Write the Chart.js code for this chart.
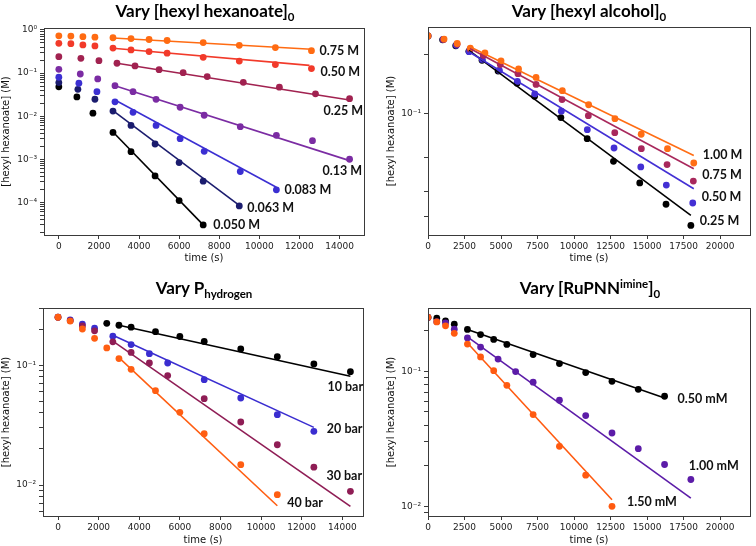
<!DOCTYPE html>
<html>
<head>
<meta charset="utf-8">
<script src="https://cdn.jsdelivr.net/npm/chart.js@4.4.1/dist/chart.umd.min.js"></script>
<style>
body { margin: 0; background: #fff; }
#wrap { position: relative; width: 756px; height: 546px; overflow: hidden; }
canvas { position: absolute; }
.ttl { position: absolute; font-family: Lato, sans-serif; font-weight: bold; font-size: 17px; line-height: 17px;
       color: #000; white-space: nowrap; transform: translateX(-50%); }
.ttl sub { font-size: 11.5px; vertical-align: baseline; position: relative; top: 4px; }
.ttl sup { font-size: 11.5px; vertical-align: baseline; position: relative; top: -6px; }
</style>
</head>
<body>
<div id="wrap">
  <canvas id="c1" width="378" height="273" style="left:0;top:0"></canvas>
  <canvas id="c2" width="378" height="273" style="left:378px;top:0"></canvas>
  <canvas id="c3" width="378" height="273" style="left:0;top:273px"></canvas>
  <canvas id="c4" width="378" height="273" style="left:378px;top:273px"></canvas>
  <div class="ttl" style="left:205px;top:2px">Vary [hexyl hexanoate]<sub>0</sub></div>
  <div class="ttl" style="left:589px;top:2px">Vary [hexyl alcohol]<sub>0</sub></div>
  <div class="ttl" style="left:204px;top:279px">Vary P<sub>hydrogen</sub></div>
  <div class="ttl" style="left:590px;top:279px">Vary [RuPNN<sup>imine</sup>]<sub>0</sub></div>
</div>
<script>
// ---- panel 1: vary [hexyl hexanoate]0
const p1Names = ['0.75 M', '0.50 M', '0.25 M', '0.13 M', '0.083 M', '0.063 M', '0.050 M'];
const p1Times = [
  [0, 600, 1200, 1800, 2700, 3600, 4500, 5400, 7200, 9000, 10800, 12600],
  [0, 600, 1200, 1800, 2700, 3600, 4500, 5400, 7200, 9000, 10800, 12600],
  [0, 1100, 2000, 2900, 3800, 5000, 6200, 7400, 9200, 11000, 12800, 14500],
  [0, 1070, 1940, 2800, 3700, 4850, 6050, 7250, 9050, 10850, 12650, 14500],
  [0, 1000, 1900, 2800, 3700, 4850, 6050, 7250, 9050, 10850],
  [0, 950, 1800, 2700, 3600, 4800, 6000, 7200, 9000],
  [0, 900, 1700, 2700, 3600, 4800, 6000, 7200]
];
const p1Conc = [
  [0.73, 0.72, 0.70, 0.68, 0.66, 0.63, 0.60, 0.57, 0.51, 0.44, 0.39, 0.33],
  [0.49, 0.48, 0.45, 0.425, 0.38, 0.345, 0.315, 0.29, 0.232, 0.19, 0.157, 0.127],
  [0.24, 0.22, 0.194, 0.169, 0.146, 0.12, 0.102, 0.083, 0.061, 0.047, 0.033, 0.0255],
  [0.122, 0.095, 0.073, 0.051, 0.037, 0.0246, 0.0161, 0.0105, 0.0057, 0.0036, 0.0027, 0.001],
  [0.080, 0.058, 0.037, 0.0215, 0.0123, 0.0061, 0.003, 0.00153, 0.00052, 0.000195],
  [0.060, 0.042, 0.0247, 0.0131, 0.0061, 0.00226, 0.00084, 0.00031, 0.0000825],
  [0.048, 0.028, 0.0117, 0.0042, 0.0015, 0.00041, 0.00011, 0.00003]
];
// fit lines: [t start, c start, t end, c end]
const p1Fits = [
  [2700, 0.652, 12600, 0.356],
  [2700, 0.376, 12500, 0.151],
  [2900, 0.169, 14500, 0.0238],
  [2800, 0.051, 14500, 0.00093],
  [2800, 0.0238, 10850, 0.000224],
  [2700, 0.0135, 9000, 0.000085],
  [2700, 0.0043, 7200, 0.00003]
];
const p1Colors = ['#ff6b12', '#f23a2a', '#a12250', '#7b2ca3', '#3b2fd2', '#1b1c6e', '#000000'];
const p1LabelOffsets = [[8, 0], [9, 3], [-26, 12], [-27, 12], [8, 0], [8, 2], [10, 0]];
const p1XTicks = [0, 2000, 4000, 6000, 8000, 10000, 12000, 14000];

// ---- panel 2: vary [hexyl alcohol]0
const p2Names = ['1.00 M', '0.75 M', '0.50 M', '0.25 M'];
const p2Times = [
  [0, 1100, 2000, 2900, 3900, 5000, 6200, 7400, 9200, 11000, 12800, 14600, 16400, 18200],
  [0, 1070, 1990, 2880, 3790, 4950, 6160, 7400, 9180, 10980, 12790, 14610, 16370, 18170],
  [0, 1030, 1940, 2810, 3720, 4890, 6120, 7310, 9130, 10910, 12740, 14570, 16320, 18130],
  [0, 1000, 1900, 2800, 3700, 4800, 6100, 7300, 9100, 10900, 12700, 14500, 16300, 18000]
];
const p2Conc = [
  [0.249, 0.240, 0.228, 0.216, 0.204, 0.186, 0.169, 0.153, 0.131, 0.111, 0.0943, 0.0785, 0.0663, 0.056],
  [0.249, 0.239, 0.226, 0.213, 0.198, 0.178, 0.160, 0.141, 0.118, 0.0977, 0.080, 0.0663, 0.055, 0.0453],
  [0.249, 0.239, 0.223, 0.207, 0.189, 0.166, 0.146, 0.126, 0.103, 0.0828, 0.0668, 0.0535, 0.0432, 0.035],
  [0.249, 0.238, 0.222, 0.208, 0.187, 0.165, 0.143, 0.1225, 0.0955, 0.0745, 0.0571, 0.0443, 0.0345, 0.0269]
];
const p2Fits = [
  [2900, 0.219, 18200, 0.0612],
  [2880, 0.215, 18200, 0.0523],
  [2800, 0.207, 18200, 0.0414],
  [2800, 0.210, 18000, 0.0303]
];
const p2Colors = ['#ff6d14', '#a8285c', '#4330d4', '#000000'];
const p2LabelOffsets = [[9, -8], [9, -6], [9, -6], [9, -4]];
const p2XTicks = [0, 2500, 5000, 7500, 10000, 12500, 15000, 17500, 20000];

// ---- panel 3: vary P hydrogen
const p3Names = ['10 bar', '20 bar', '30 bar', '40 bar'];
const p3Times = [
  [2400, 3000, 3600, 4800, 6000, 7200, 9000, 10800, 12600, 14400],
  [0, 600, 1200, 1800, 2700, 3600, 4500, 5400, 7200, 9000, 10800, 12600],
  [0, 600, 1200, 1800, 2700, 3600, 4500, 5400, 7200, 9000, 10800, 12600, 14400],
  [0, 600, 1200, 1800, 2400, 3000, 3600, 4800, 6000, 7200, 9000, 10800]
];
const p3Conc = [
  [0.224, 0.216, 0.208, 0.191, 0.174, 0.158, 0.137, 0.118, 0.1026, 0.0885],
  [0.252, 0.239, 0.221, 0.204, 0.175, 0.149, 0.125, 0.1045, 0.0759, 0.0533, 0.0387, 0.0281],
  [0.252, 0.236, 0.213, 0.194, 0.157, 0.128, 0.1045, 0.082, 0.0526, 0.0336, 0.0217, 0.0141, 0.00885],
  [0.252, 0.234, 0.201, 0.168, 0.1396, 0.1137, 0.0926, 0.0614, 0.0405, 0.0268, 0.0148, 0.0083]
];
const p3Fits = [
  [3000, 0.216, 14400, 0.0809],
  [2700, 0.178, 12600, 0.0303],
  [2700, 0.159, 14400, 0.00664],
  [3000, 0.116, 10800, 0.00671]
];
const p3Colors = ['#000000', '#3a2dd0', '#8f1d55', '#ff5e12'];
const p3LabelOffsets = [[-23, 15], [13, -2], [-24, -15], [10, 8]];

// ---- panel 4: vary [RuPNN imine]0
const p4Names = ['0.50 mM', '1.00 mM', '1.50 mM'];
const p4Times = [
  [0, 600, 1200, 1800, 2700, 3600, 4500, 5400, 7200, 9000, 10800, 12600, 14400, 16200],
  [0, 600, 1200, 1800, 2700, 3600, 4800, 6000, 7200, 9000, 10800, 12600, 14400, 16200, 18000],
  [0, 600, 1200, 1800, 2700, 3600, 4500, 5400, 7200, 9000, 10800, 12600]
];
const p4Conc = [
  [0.25, 0.247, 0.236, 0.223, 0.204, 0.187, 0.172, 0.158, 0.133, 0.114, 0.0977, 0.0843, 0.0735, 0.0653],
  [0.25, 0.233, 0.228, 0.205, 0.1765, 0.151, 0.123, 0.0995, 0.083, 0.061, 0.047, 0.0349, 0.0267, 0.0204, 0.0158],
  [0.251, 0.232, 0.217, 0.191, 0.159, 0.1276, 0.101, 0.0787, 0.0478, 0.0278, 0.017, 0.01]
];
const p4Fits = [
  [2700, 0.204, 16200, 0.0634],
  [2700, 0.1795, 18000, 0.0115],
  [2700, 0.162, 12600, 0.0112]
];
const p4Colors = ['#000000', '#5c1ca8', '#ff5a10'];
const p4LabelOffsets = [[13, 3], [-2, -14], [15, -4]];

const SUP = {'-': '\u207B', '0': '\u2070', '1': '\u00B9', '2': '\u00B2', '3': '\u00B3',
             '4': '\u2074', '5': '\u2075', '6': '\u2076', '7': '\u2077', '8': '\u2078', '9': '\u2079'};

function powLabel(v) {
  const e = Math.round(Math.log10(v));
  return '10' + String(e).split('').map(c => SUP[c]).join('');
}

function logTicks(min, max, subs) {
  const out = [];
  for (let e = Math.floor(Math.log10(min)); e <= Math.ceil(Math.log10(max)); e++) {
    [1].concat(subs).forEach(s => {
      const v = s * Math.pow(10, e);
      if (v >= min && v <= max) out.push({value: v, major: s === 1});
    });
  }
  return out;
}

function makeSets(times, conc, fits, colors, lastOnTop) {
  const sets = [];
  const n = times.length;
  times.forEach((t, i) => {
    sets.push({
      data: [{x: fits[i][0], y: fits[i][1]}, {x: fits[i][2], y: fits[i][3]}],
      showLine: true, borderColor: colors[i], borderWidth: 1.6,
      pointRadius: 0, order: 0
    });
    sets.push({
      data: t.map((x, j) => ({x: x, y: conc[i][j]})),
      showLine: false, backgroundColor: colors[i], borderWidth: 0,
      pointRadius: 3.4, order: lastOnTop ? 1 + (n - i) : 1 + i
    });
  });
  return sets;
}

const framePlugin = {
  id: 'frame',
  afterDraw(chart) {
    const {ctx, chartArea: a} = chart;
    ctx.save();
    ctx.strokeStyle = '#3a3a3a';
    ctx.lineWidth = 1;
    ctx.strokeRect(Math.round(a.left) + 0.5, Math.round(a.top) + 0.5,
                   Math.round(a.right - a.left), Math.round(a.bottom - a.top));
    ctx.restore();
  }
};

function labelPlugin(names, times, conc, offsets) {
  return {
    id: 'seriesLabels',
    afterDraw(chart) {
      const {ctx, scales} = chart;
      ctx.save();
      ctx.font = 'bold 12.5px Lato';
      ctx.fillStyle = '#111';
      ctx.textBaseline = 'middle';
      names.forEach((name, i) => {
        const t = times[i], c = conc[i];
        const px = scales.x.getPixelForValue(t[t.length - 1]) + offsets[i][0];
        const py = scales.y.getPixelForValue(c[c.length - 1]) + offsets[i][1];
        ctx.fillText(name, px, py);
      });
      ctx.restore();
    }
  };
}

function buildChart(id, p) {
  const tickFont = {family: 'DejaVu Sans', size: 9};
  const titleFont = {family: 'DejaVu Sans', size: 10};
  const axisGrid = {drawOnChartArea: false, drawTicks: true, tickLength: 4, tickColor: '#3a3a3a'};
  new Chart(document.getElementById(id), {
    type: 'scatter',
    data: {datasets: makeSets(p.times, p.conc, p.fits, p.colors, p.lastOnTop)},
    options: {
      responsive: false,
      animation: false,
      events: [],
      layout: {padding: p.pad},
      plugins: {legend: {display: false}, tooltip: {enabled: false}},
      scales: {
        x: {
          type: 'linear', min: p.xMin, max: p.xMax,
          afterFit: s => { s.height = p.xh; },
          afterBuildTicks: s => { s.ticks = p.xTicks.map(v => ({value: v})); },
          grid: axisGrid,
          border: {display: false},
          ticks: {autoSkip: false, maxRotation: 0, padding: 2, color: '#222', font: tickFont,
                  callback: v => String(v)},
          title: {display: true, text: 'time (s)', color: '#111', font: titleFont,
                  padding: {top: 0, bottom: p.xTitlePad}}
        },
        y: {
          type: 'logarithmic', min: p.yMin, max: p.yMax,
          afterFit: s => { s.width = p.yw; },
          afterBuildTicks: s => { s.ticks = logTicks(p.yMin, p.yMax, p.subs); },
          grid: axisGrid,
          border: {display: false},
          ticks: {autoSkip: false, padding: 3, color: '#222', font: tickFont,
                  callback: (v, i, ticks) => ticks[i].major ? powLabel(v) : ''},
          title: {display: true, text: '[hexyl hexanoate] (M)', color: '#111', font: titleFont,
                  padding: {top: 0, bottom: 0}}
        }
      }
    },
    plugins: [framePlugin, labelPlugin(p.names, p.times, p.conc, p.offsets)]
  });
}

const allSubs = [2, 3, 4, 5, 6, 7, 8, 9];

buildChart('c1', {
  names: p1Names, times: p1Times, conc: p1Conc, fits: p1Fits, colors: p1Colors, offsets: p1LabelOffsets,
  xMin: -740, xMax: 15220, xTicks: p1XTicks, yMin: 1.75e-5, yMax: 1.11, subs: allSubs,
  pad: {left: 0, top: 28, right: 14, bottom: 0}, yw: 44, xh: 38, xTitlePad: 9, lastOnTop: false
});
buildChart('c2', {
  names: p2Names, times: p2Times, conc: p2Conc, fits: p2Fits, colors: p2Colors, offsets: p2LabelOffsets,
  xMin: 0, xMax: 22050, xTicks: p2XTicks, yMin: 0.02404, yMax: 0.2767, subs: [2, 3, 4, 6],
  pad: {left: 7, top: 27, right: 6, bottom: 0}, yw: 43, xh: 38, xTitlePad: 9, lastOnTop: false
});
buildChart('c3', {
  names: p3Names, times: p3Times, conc: p3Conc, fits: p3Fits, colors: p3Colors, offsets: p3LabelOffsets,
  xMin: -740, xMax: 15020, xTicks: p1XTicks, yMin: 0.00551, yMax: 0.301, subs: allSubs,
  pad: {left: 0, top: 35, right: 15, bottom: 0}, yw: 43, xh: 30, xTitlePad: 0, lastOnTop: true
});
buildChart('c4', {
  names: p4Names, times: p4Times, conc: p4Conc, fits: p4Fits, colors: p4Colors, offsets: p4LabelOffsets,
  xMin: 0, xMax: 22050, xTicks: p2XTicks, yMin: 0.00848, yMax: 0.294, subs: allSubs,
  pad: {left: 7, top: 35, right: 6, bottom: 0}, yw: 43, xh: 30, xTitlePad: 0, lastOnTop: true
});
</script>
</body>
</html>
